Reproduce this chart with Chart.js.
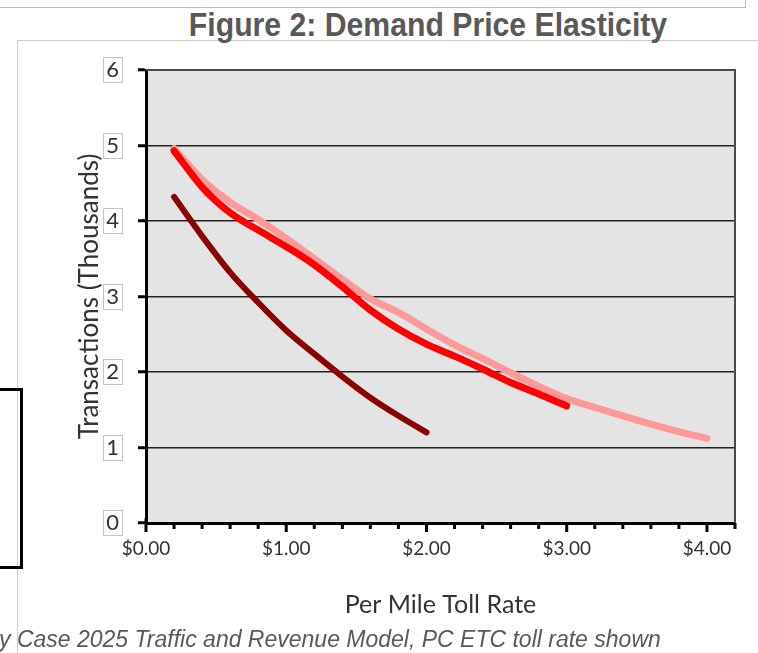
<!DOCTYPE html>
<html>
<head>
<meta charset="utf-8">
<title>Demand Price Elasticity</title>
<script src="https://cdn.jsdelivr.net/npm/chart.js@4.4.1/dist/chart.umd.min.js"></script>
<style>
  html, body { margin: 0; padding: 0; background: #fff; }
  body { width: 758px; height: 653px; overflow: hidden; position: relative; }
  #topbox { position: absolute; left: -4px; top: -4px; width: 748px; height: 10px; border: 1px solid #bdbdbd; }
  #frame { position: absolute; left: 17px; top: 40px; width: 800px; height: 700px;
           border-left: 1px solid #cfcfcf; border-top: 1px solid #cfcfcf; }
  #bracket { position: absolute; left: -10px; top: 388px; width: 27px; height: 175px; border: 3px solid #000; }
  #title { position: absolute; left: 0; top: 8px; width: 856px; text-align: center;
           font: bold 33px/33px "Liberation Sans", Arial, sans-serif; color: #595959; white-space: nowrap;
           transform: scaleX(0.915); transform-origin: 428px 0; }
  #caption { position: absolute; left: -1px; top: 626px; white-space: nowrap;
             font: italic 23px "Liberation Sans", Arial, sans-serif; color: #595959; }
  #wrap { position: absolute; left: 0; top: 0; width: 758px; height: 653px; }
</style>
</head>
<body>
<div id="topbox"></div>
<div id="frame"></div>
<div id="title">Figure 2: Demand Price Elasticity</div>
<div id="wrap"><canvas id="chart" width="758" height="653"></canvas></div>
<div id="bracket"></div>
<div id="caption">y Case 2025 Traffic and Revenue Model, PC ETC toll rate shown</div>

<script>
// Per-mile toll rates ($) at which demand was modelled
const tollRate = [0.2, 0.4, 0.6, 0.8, 1.0, 1.2, 1.4, 1.6, 1.8, 2.0,
                  2.2, 2.4, 2.6, 2.8, 3.0, 3.2, 3.4, 3.6, 3.8, 4.0];

// Transactions (thousands) for each demand curve
const darkCurve  = [4.32, 3.80, 3.32, 2.92, 2.55, 2.24, 1.94, 1.66, 1.42, 1.20];
const redCurve   = [4.93, 4.45, 4.11, 3.88, 3.66, 3.42, 3.13, 2.82, 2.57, 2.37,
                    2.21, 2.04, 1.86, 1.71, 1.55];
const pinkCurve  = [4.96, 4.55, 4.25, 4.02, 3.77, 3.50, 3.23, 2.97, 2.79, 2.57,
                    2.36, 2.18, 1.99, 1.81, 1.65, 1.53, 1.42, 1.31, 1.21, 1.12];

// Axis tick labels
const xTickLabels = ['$0.00', '$1.00', '$2.00', '$3.00', '$4.00'];
const yTickLabels = ['0', '1', '2', '3', '4', '5', '6'];

const toPoints = ys => ys.map((y, i) => ({ x: tollRate[i], y }));

const LABEL_FONT = '"Lato", "Open Sans", sans-serif';
const Y_LABEL_SIZE = 22;

// Plot background, frame, x-axis tick marks and the boxes round the y labels
const decor = {
  id: 'decor',
  beforeDraw(chart) {
    const { ctx, chartArea: a } = chart;
    ctx.save();
    ctx.fillStyle = '#e4e4e4';
    ctx.fillRect(a.left, a.top, a.right - a.left, a.bottom - a.top);
    ctx.restore();
  },
  afterDatasetsDraw(chart) {
    const { ctx, chartArea: a } = chart;
    ctx.save();
    // right and top frame of the plot
    ctx.strokeStyle = '#4a4a4a';
    ctx.lineWidth = 2;
    ctx.beginPath();
    ctx.moveTo(a.left, a.top);
    ctx.lineTo(a.right, a.top);
    ctx.lineTo(a.right, a.bottom);
    ctx.stroke();
    ctx.restore();
  },
  afterDraw(chart) {
    const { ctx, chartArea: a, scales } = chart;
    const xs = scales.x, ys = scales.y;
    ctx.save();
    // x tick marks: majors every $1, minors every $0.20
    ctx.strokeStyle = '#000';
    ctx.lineWidth = 3;
    xs.ticks.forEach(t => {
      const px = xs.getPixelForValue(t.value);
      const major = Math.abs(t.value - Math.round(t.value)) < 1e-6;
      ctx.beginPath();
      ctx.moveTo(px, a.bottom - (t.value === 0 ? 5 : 0));
      ctx.lineTo(px, a.bottom + (major ? 9 : 6));
      ctx.stroke();
    });
    // boxes round the y tick labels
    ctx.font = Y_LABEL_SIZE + 'px ' + LABEL_FONT;
    ctx.strokeStyle = '#c4c4c4';
    ctx.lineWidth = 1;
    ys.ticks.forEach(t => {
      const py = Math.round(ys.getPixelForValue(t.value));
      const w = ctx.measureText(yTickLabels[t.value]).width;
      const right = a.left - 27;
      ctx.strokeRect(Math.round(right - w - 3) + 0.5, py - 12.5, Math.round(w + 6), 25);
    });
    ctx.restore();
  }
};

new Chart(document.getElementById('chart'), {
  type: 'line',
  data: {
    datasets: [
      { label: 'Red', data: toPoints(redCurve), borderColor: '#ff0000', borderWidth: 7, order: 1 },
      { label: 'Pink', data: toPoints(pinkCurve), borderColor: '#ff9999', borderWidth: 7, order: 2 },
      { label: 'Dark', data: toPoints(darkCurve), borderColor: '#8b0000', borderWidth: 6, order: 3 }
    ]
  },
  options: {
    responsive: false,
    animation: false,
    events: [],
    layout: { padding: { left: 0, top: 70, right: 23, bottom: 30 } },
    elements: {
      point: { radius: 0 },
      line: { tension: 0.4, cubicInterpolationMode: 'monotone', borderCapStyle: 'round', borderJoinStyle: 'round', fill: false }
    },
    plugins: { legend: { display: false }, tooltip: { enabled: false }, title: { display: false } },
    scales: {
      x: {
        type: 'linear', min: 0, max: 4.2,
        afterFit(s) { s.height = 100; },
        ticks: {
          stepSize: 0.2, autoSkip: false, maxRotation: 0, padding: 14,
          color: '#333', font: { family: LABEL_FONT, size: 19 },
          callback(v) {
            const r = Math.round(v);
            return Math.abs(v - r) < 1e-6 ? xTickLabels[r] : '';
          }
        },
        grid: { drawOnChartArea: false, drawTicks: false },
        border: { display: true, color: '#000', width: 3 },
        title: { display: true, text: 'Per Mile Toll Rate', color: '#333',
                 font: { family: LABEL_FONT, size: 25 }, padding: { top: 0, bottom: 3 } }
      },
      y: {
        min: 0, max: 6,
        afterFit(s) { s.width = 146; },
        ticks: {
          stepSize: 1, padding: 19, color: '#333', font: { family: LABEL_FONT, size: Y_LABEL_SIZE },
          callback(v) { return yTickLabels[v]; }
        },
        grid: { color: '#222', lineWidth: 1.5, tickLength: 8, tickColor: '#000', tickWidth: 3 },
        border: { display: true, color: '#000', width: 3 },
        title: { display: true, text: 'Transactions (Thousands)', color: '#333',
                 font: { family: LABEL_FONT, size: 26 }, padding: { top: 74, bottom: 0 } }
      }
    }
  },
  plugins: [decor]
});
</script>
</body>
</html>
